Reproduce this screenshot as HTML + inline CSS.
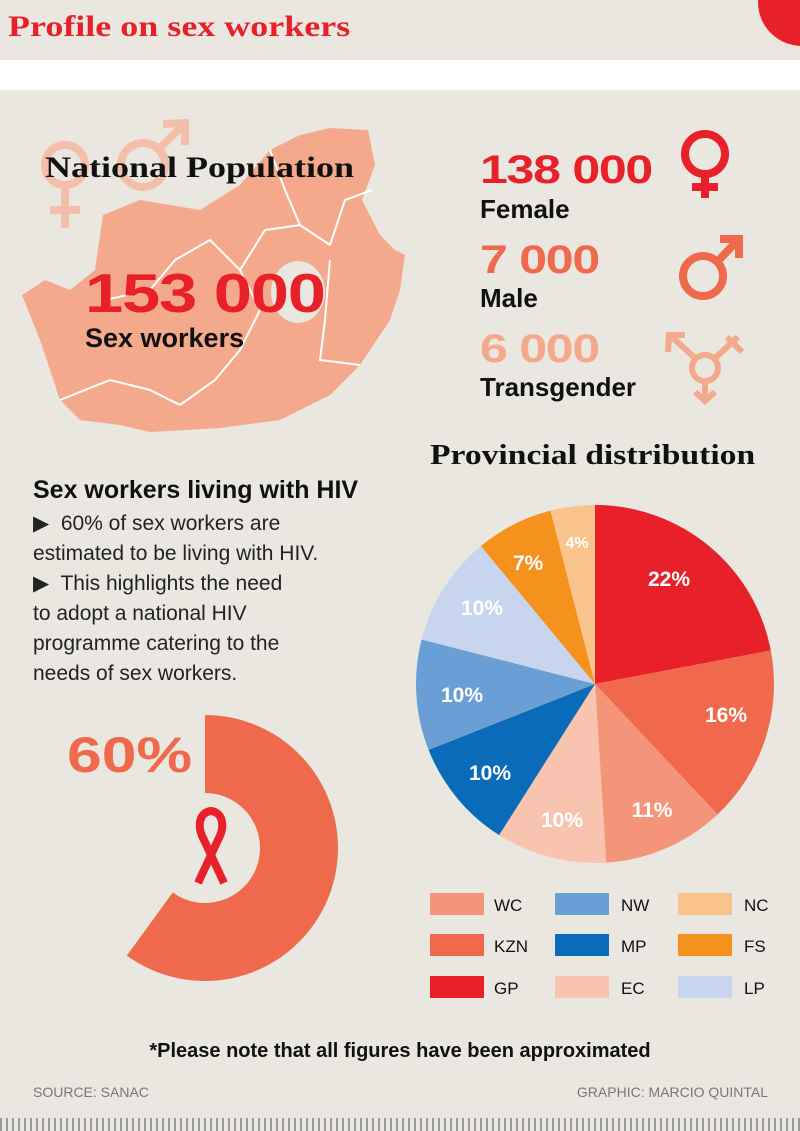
<!DOCTYPE html>
<html><head><meta charset="utf-8"><style>
body{margin:0;width:800px;height:1131px;overflow:hidden;background:#e9e7e0;position:relative;font-family:"Liberation Sans",sans-serif}
.a{position:absolute;white-space:nowrap;transform-origin:left top}
.n{font-family:"Liberation Sans Narrow","Liberation Sans",sans-serif;font-weight:bold}
.s{font-family:"Liberation Serif",serif;font-weight:bold;transform:scaleX(1.2)}
.w{transform:scaleX(1.25);font-weight:bold;letter-spacing:-1px}
</style></head><body>
<div style="position:absolute;left:0;top:60px;width:800px;height:30px;background:#fff"></div>
<div style="position:absolute;left:0;top:1118px;width:800px;height:13px;background:repeating-linear-gradient(90deg,#9a9a9a 0 2px,transparent 2px 6px)"></div>
<svg class="a" style="left:0;top:0" width="800" height="1131" viewBox="0 0 800 1131">
<circle cx="802" cy="2" r="44" fill="#e8202a"/>
<path d="M22,295 L45,280 L70,290 L95,270 L103,215 L140,200 L200,210 L240,185 L270,150 L300,135 L330,128 L368,130 L375,165 L362,200 L380,235 L395,250 L405,255 L400,290 L390,320 L360,365 L330,395 L280,420 L220,428 L150,432 L120,425 L80,420 L60,400 L40,340 Z" fill="#f5a98c"/>
<ellipse cx="298" cy="292" rx="27" ry="31" fill="#e9e7e0"/>
<g stroke="#fff" stroke-width="2" fill="none">
<path d="M105,300 L150,290 L175,260 L210,240 L240,270 L260,310 L240,350 L215,380 L180,405"/>
<path d="M240,270 L265,230 L300,225 L330,245"/>
<path d="M270,150 L285,190 L300,225"/>
<path d="M330,245 L345,200 L372,190"/>
<path d="M330,260 L325,320 L320,360 L360,365"/>
<path d="M60,400 L110,380 L150,390 L180,405"/>
</g>
<g stroke="#f7b9a1" stroke-width="8" fill="none" opacity="0.85">
<circle cx="65" cy="165" r="20"/><line x1="65" y1="185" x2="65" y2="228"/><line x1="50" y1="210" x2="80" y2="210"/>
<circle cx="143" cy="165" r="22"/><line x1="158" y1="150" x2="183" y2="125"/><polyline points="163,124 185,123 185,145"/>
</g>
<g stroke="#e8202a" stroke-width="8" fill="none"><circle cx="705" cy="154" r="20"/><line x1="705" y1="174" x2="705" y2="198"/><line x1="692" y1="187" x2="718" y2="187"/></g>
<g stroke="#ef6a4c" stroke-width="8" fill="none"><circle cx="703" cy="276" r="20"/><line x1="717" y1="262" x2="738" y2="240"/><polyline points="720,239 739,239 739,258"/></g>
<g stroke="#f5a98c" stroke-width="6" fill="none"><circle cx="705" cy="368" r="13"/><line x1="705" y1="381" x2="705" y2="400"/><polyline points="695,392 705,401 715,392"/><line x1="696" y1="359" x2="673" y2="338"/><polyline points="668,352 669,335 685,335"/><line x1="714" y1="359" x2="738" y2="337"/><line x1="727" y1="337" x2="742" y2="352"/></g>
<g>
<path d="M595,684 L595,505 A179,179 0 0 1 770.8,650.5 Z" fill="#e8202a"/>
<path d="M595,684 L770.8,650.5 A179,179 0 0 1 717.5,814.5 Z" fill="#f0694c"/>
<path d="M595,684 L717.5,814.5 A179,179 0 0 1 606.2,862.6 Z" fill="#f4957a"/>
<path d="M595,684 L606.2,862.6 A179,179 0 0 1 499.1,835.1 Z" fill="#f8c4b0"/>
<path d="M595,684 L499.1,835.1 A179,179 0 0 1 428.6,749.9 Z" fill="#0a6bb8"/>
<path d="M595,684 L428.6,749.9 A179,179 0 0 1 421.6,639.5 Z" fill="#6a9fd6"/>
<path d="M595,684 L421.6,639.5 A179,179 0 0 1 480.9,546.1 Z" fill="#c7d5ee"/>
<path d="M595,684 L480.9,546.1 A179,179 0 0 1 550.5,510.6 Z" fill="#f5921e"/>
<path d="M595,684 L550.5,510.6 A179,179 0 0 1 595,505 Z" fill="#f9c48c"/>
</g>
<g fill="#fff" font-family="Liberation Sans Narrow, Liberation Sans, sans-serif" font-weight="bold" font-size="21" text-anchor="middle">
<text x="669" y="586">22%</text><text x="726" y="722">16%</text><text x="652" y="817">11%</text><text x="562" y="827">10%</text><text x="490" y="780">10%</text><text x="462" y="702">10%</text><text x="482" y="615">10%</text><text x="528" y="570">7%</text><text x="577" y="548" font-size="16">4%</text>
</g>
<path d="M205,715 A133,133 0 1 1 126.8,955.6 L172.7,892.5 A55,55 0 1 0 205,793 Z" fill="#ef6a4c"/>
<path d="M198,883 L218,840 C226,825 222,812 211,811 C200,812 196,825 204,840 L224,883" stroke="#e8202a" stroke-width="8" fill="none"/>
<g>
<rect x="430" y="893" width="54" height="22" fill="#f4957a"/><rect x="430" y="934" width="54" height="22" fill="#f0694c"/><rect x="430" y="976" width="54" height="22" fill="#e8202a"/>
<rect x="555" y="893" width="54" height="22" fill="#6a9fd6"/><rect x="555" y="934" width="54" height="22" fill="#0a6bb8"/><rect x="555" y="976" width="54" height="22" fill="#f8c4b0"/>
<rect x="678" y="893" width="54" height="22" fill="#f9c48c"/><rect x="678" y="934" width="54" height="22" fill="#f5921e"/><rect x="678" y="976" width="54" height="22" fill="#c7d5ee"/>
</g>
<g font-family="Liberation Sans Narrow, Liberation Sans, sans-serif" font-size="17" fill="#111">
<text x="494" y="911">WC</text><text x="494" y="952">KZN</text><text x="494" y="994">GP</text>
<text x="621" y="911">NW</text><text x="621" y="952">MP</text><text x="621" y="994">EC</text>
<text x="744" y="911">NC</text><text x="744" y="952">FS</text><text x="744" y="994">LP</text>
</g>
</svg>
<div class="a s" style="left:8px;top:10px;font-size:30px;color:#e8202a">Profile on sex workers</div>
<div class="a s" style="left:45px;top:151px;font-size:30px;color:#111">National Population</div>
<div class="a w" style="left:85px;top:261px;font-size:55px;color:#e8202a">153 000</div>
<div class="a n" style="left:85px;top:323px;font-size:27px;color:#111">Sex workers</div>
<div class="a w" style="left:480px;top:148px;font-size:40px;color:#e8202a">138 000</div>
<div class="a n" style="left:480px;top:194px;font-size:26px;color:#111">Female</div>
<div class="a w" style="left:480px;top:238px;font-size:40px;color:#ef6a4c">7 000</div>
<div class="a n" style="left:480px;top:283px;font-size:26px;color:#111">Male</div>
<div class="a w" style="left:480px;top:327px;font-size:40px;color:#f5a98c">6 000</div>
<div class="a n" style="left:480px;top:372px;font-size:26px;color:#111">Transgender</div>
<div class="a s" style="left:430px;top:440px;font-size:28px;color:#111">Provincial distribution</div>
<div class="a n" style="left:33px;top:476px;font-size:25px;color:#111">Sex workers living with HIV</div>
<div class="a" style="left:33px;top:509px;font-size:21px;line-height:30px;color:#222">▶&nbsp; 60% of sex workers are<br>estimated to be living with HIV.<br>▶&nbsp; This highlights the need<br>to adopt a national HIV<br>programme catering to the<br>needs of sex workers.</div>
<div class="a w" style="left:67px;top:726px;font-size:50px;color:#ef6a4c;letter-spacing:0">60%</div>
<div class="a n" style="left:0;width:800px;text-align:center;top:1040px;font-size:20px;color:#111">*Please note that all figures have been approximated</div>
<div class="a" style="left:33px;top:1084px;font-size:14px;color:#777">SOURCE: SANAC</div>
<div class="a" style="right:32px;top:1084px;font-size:14px;color:#777">GRAPHIC: MARCIO QUINTAL</div>
</body></html>
